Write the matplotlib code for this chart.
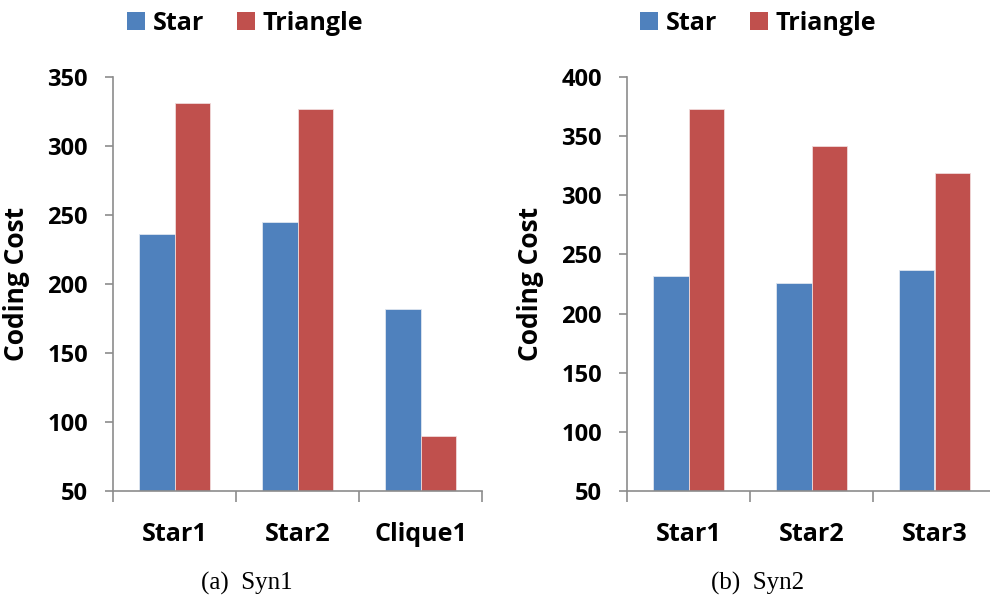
import matplotlib.pyplot as plt
import numpy as np
from matplotlib.patches import Patch

# data
syn1_labels = ['Star1', 'Star2', 'Clique1']
syn1_star = [236, 245, 182]
syn1_triangle = [331, 327, 90]

syn2_labels = ['Star1', 'Star2', 'Star3']
syn2_star = [232, 226, 237]
syn2_triangle = [373, 342, 319]

series_names = ['Star', 'Triangle']
colors = ['#4F81BD', '#C0504D']
captions = ['(a)  Syn1', '(b)  Syn2']

plt.rcParams['font.family'] = ['Open Sans', 'DejaVu Sans']
plt.rcParams['font.weight'] = 'bold'
axis_grey = '#8c8c8c'


def draw_panel(ax, labels, star, triangle, ymax, ystep):
    x = np.arange(len(labels))
    w = 0.285
    ax.bar(x - w / 2, star, w, color=colors[0], edgecolor='#dfe6f0', linewidth=0.6)
    ax.bar(x + w / 2, triangle, w, color=colors[1], edgecolor='#f0dada', linewidth=0.6)
    ax.set_ylim(50, ymax)
    ax.set_xlim(-0.5, len(labels) - 0.5)
    ax.set_yticks(np.arange(50, ymax + 1, ystep))
    ax.set_xticks(x)
    ax.set_xticklabels(labels, fontsize=18, fontweight='bold')
    ax.set_xticks(np.arange(-0.5, len(labels), 1.0), minor=True)
    ax.tick_params(axis='x', which='major', length=0, pad=22)
    ax.tick_params(axis='x', which='minor', length=8, color=axis_grey, width=1.2)
    ax.tick_params(axis='y', length=6, color=axis_grey, width=1.2, labelsize=17, pad=12)
    for side in ['top', 'right']:
        ax.spines[side].set_visible(False)
    for side in ['left', 'bottom']:
        ax.spines[side].set_color(axis_grey)
        ax.spines[side].set_linewidth(1.2)
    ax.set_ylabel('Coding Cost', fontsize=19, fontweight='bold')
    ax.yaxis.set_label_coords(-0.225, 0.5)


fig = plt.figure(figsize=(9.9, 6), dpi=100)
ax1 = fig.add_axes([113 / 990, 109 / 600, 369 / 990, 414 / 600])
ax2 = fig.add_axes([627 / 990, 109 / 600, 369 / 990, 414 / 600])

draw_panel(ax1, syn1_labels, syn1_star, syn1_triangle, 350, 50)
draw_panel(ax2, syn2_labels, syn2_star, syn2_triangle, 400, 50)

handles = [Patch(facecolor=c) for c in colors]
for xc in [245 / 990, 758 / 990]:
    fig.legend(handles, series_names, loc='center', bbox_to_anchor=(xc, 1 - 23 / 600),
               ncol=2, frameon=False, handlelength=0.75, handleheight=0.75,
               handletextpad=0.3, columnspacing=1.3,
               prop={'family': 'Open Sans', 'weight': 'bold', 'size': 18})

for xc, cap in zip([247 / 990, 758 / 990], captions):
    fig.text(xc, 1 - 583 / 600, cap, ha='center', va='center', fontsize=18,
             family='Liberation Serif', fontweight='normal')

fig.savefig('out.png', dpi=100)
